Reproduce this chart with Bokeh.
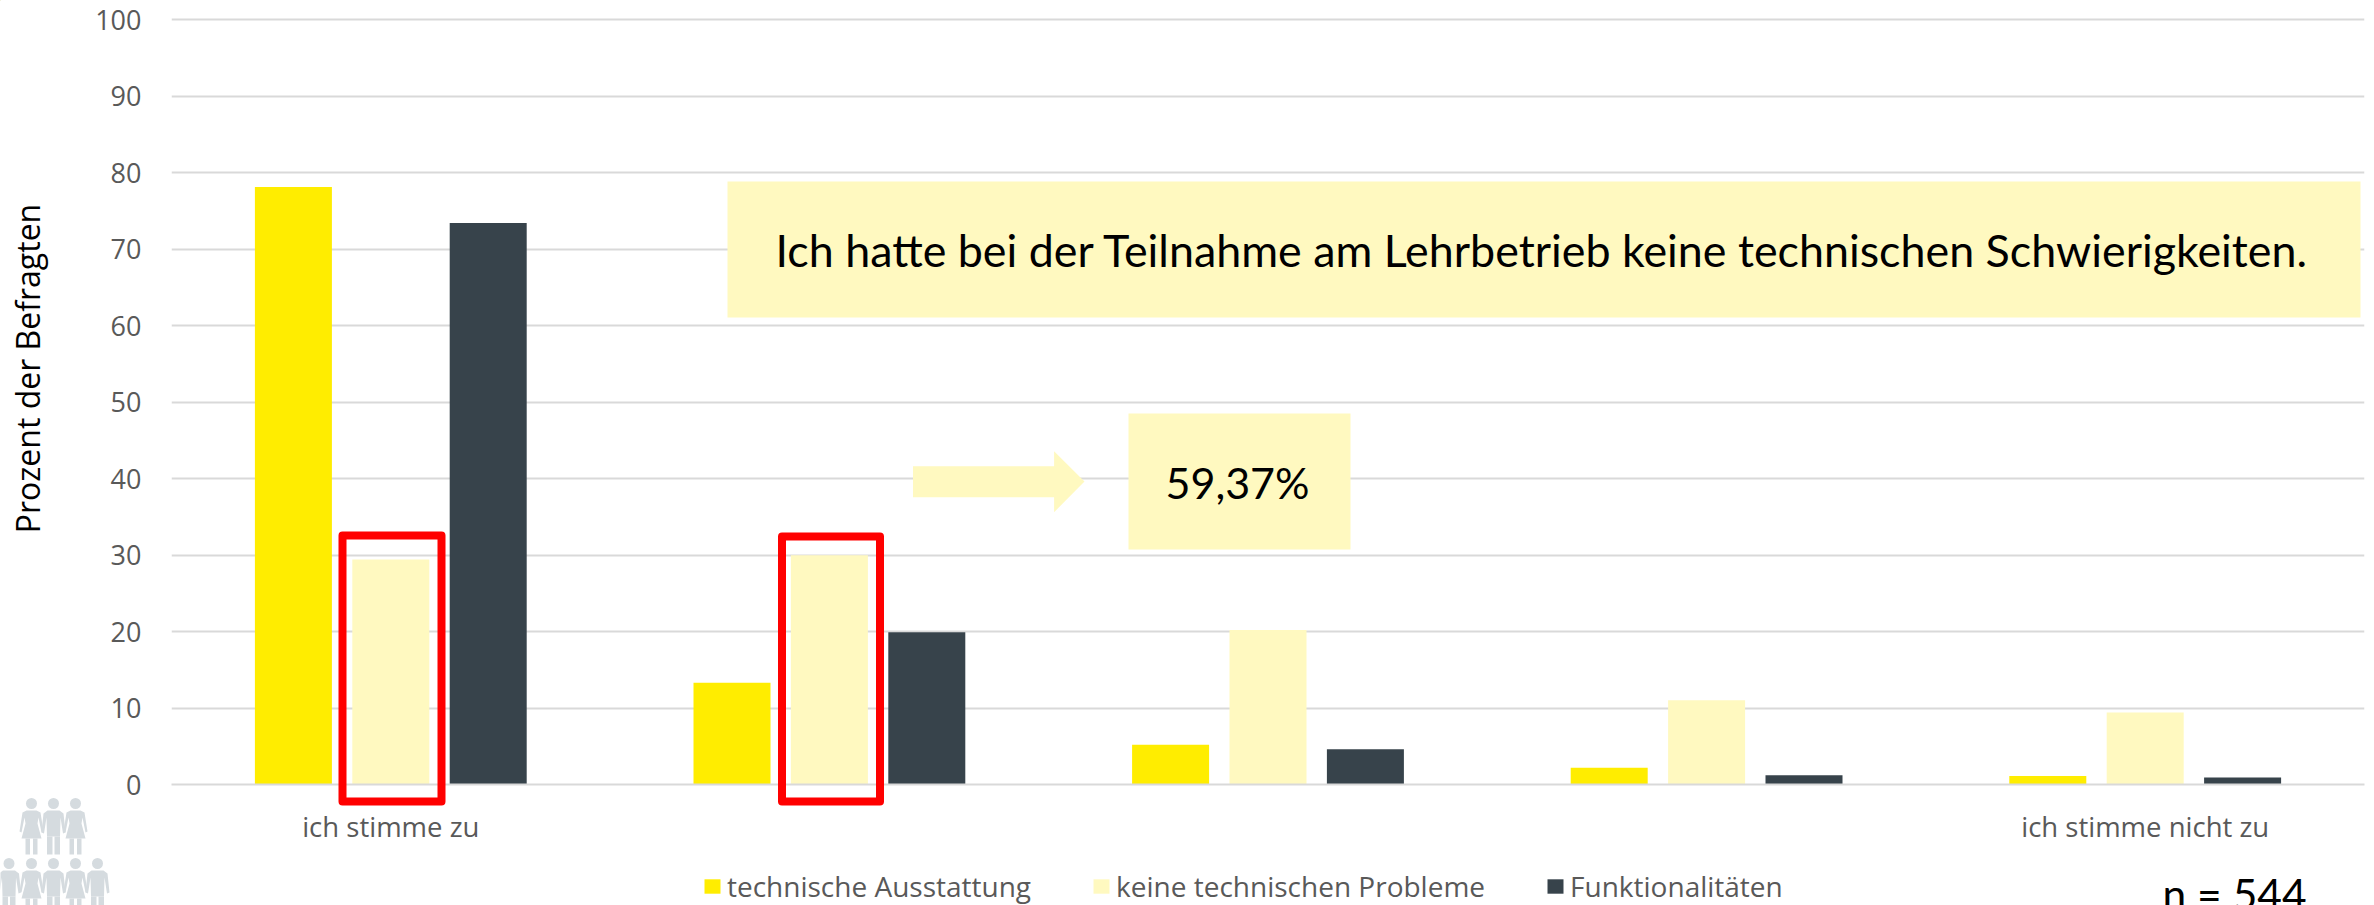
from bokeh.plotting import figure
from bokeh.layouts import column
from bokeh.models import Range1d, FixedTicker, Legend, LegendItem, Label
from bokeh.embed import file_html
from bokeh.resources import INLINE
import numpy as np

series_names = ["technische Ausstattung", "keine technischen Probleme", "Funktionalitäten"]
ausstattung = [78.1, 13.3, 5.2, 2.2, 1.1]
probleme = [29.4, 29.97, 20.2, 11.0, 9.4]
funktion = [73.4, 19.9, 4.6, 1.2, 0.9]
colors = ["#FFED00", "#FFF9C0", "#37434B"]
tick_labels = {0.5: "ich stimme zu", 4.5: "ich stimme nicht zu"}
y_ticks = list(range(0, 101, 10))
title_text = "Ich hatte bei der Teilnahme am Lehrbetrieb keine technischen Schwierigkeiten."
share_text = "59,37%"
n_text = "n = 544"
y_label = "Prozent der Befragten"

W, H = 2374, 905
LEFT, TOP, RIGHT, BOTTOM = 171, 15, 2364, 784
PXX, PXY = (RIGHT - LEFT) / 5, 7.65
FONT = "Lato"
AXF = "Open Sans"

# ---------- chart: bars, grid, axes ----------
p = figure(width=W, height=H, output_backend="svg", toolbar_location=None,
           x_range=Range1d(0, 5), y_range=Range1d(0, (BOTTOM - TOP) / PXY),
           min_border_left=LEFT, min_border_top=TOP, min_border_right=W - RIGHT, min_border_bottom=H - BOTTOM)
p.frame_align = False
p.outline_line_color = None
p.xgrid.visible = False
p.ygrid.grid_line_color = "#D9D9D9"
p.ygrid.grid_line_width = 2
p.ygrid.ticker = FixedTicker(ticks=y_ticks)

p.yaxis.ticker = FixedTicker(ticks=y_ticks)
p.yaxis.axis_line_color = None
p.yaxis.major_tick_line_color = None
p.yaxis.minor_tick_line_color = None
p.yaxis.major_label_text_font = AXF
p.yaxis.major_label_text_font_size = "27px"
p.yaxis.major_label_text_color = "#595959"
p.yaxis.major_label_standoff = 24

p.xaxis.ticker = FixedTicker(ticks=list(tick_labels.keys()))
p.xaxis.major_label_overrides = tick_labels
p.xaxis.axis_line_color = "#D9D9D9"
p.xaxis.axis_line_width = 2
p.xaxis.major_tick_line_color = None
p.xaxis.minor_tick_line_color = None
p.xaxis.major_label_text_font = AXF
p.xaxis.major_label_text_font_size = "27.5px"
p.xaxis.major_label_text_color = "#595959"
p.xaxis.major_label_standoff = 17

centers = np.arange(5) + 0.5
step, bw = 97.4 / PXX, 77 / PXX
for k, vals in enumerate([ausstattung, probleme, funktion]):
    p.vbar(x=centers + (k - 1) * step, top=vals, bottom=0, width=bw,
           fill_color=colors[k], line_color=None)

# ---------- overlay in canvas pixels: callouts, frames, pictogram, legend ----------
q = figure(width=W, height=H, output_backend="svg", toolbar_location=None,
           x_range=Range1d(0, W), y_range=Range1d(H, 0),
           x_axis_type=None, y_axis_type=None, min_border=0, margin=(-H, 0, 0, 0))
q.frame_align = False
q.outline_line_color = None
q.background_fill_color = None
q.border_fill_color = None
q.grid.visible = False

q.quad(left=[342, 781.5], right=[441, 879.5], top=[535, 536], bottom=[801, 801],
       fill_color=None, line_color="#FF0000", line_width=8, line_join="round")
q.quad(left=[727, 1128], right=[2360, 1350], top=[181, 413], bottom=[317, 549],
       fill_color=colors[1], line_color=None)
q.patch([912.5, 1053.6, 1053.6, 1084, 1053.6, 1053.6, 912.5],
        [465.7, 465.7, 450.7, 481, 511.7, 496.7, 496.7], fill_color=colors[1], line_color=None)

def add_text(x, y, text, size, font=FONT, color="#000000", **kw):
    q.add_layout(Label(x=x, y=y, text=text, text_font=font, text_font_size=size,
                       text_color=color, text_baseline="middle", **kw))
add_text(775, 249, title_text, "44.8px")
add_text(1165, 482, share_text, "43px")
add_text(2162, 893, n_text, "42.5px")
add_text(27, 368, y_label, "32px", font=AXF, angle=np.pi / 2, text_align="center")

ICON = "#D5DBDF"
WOMAN = [[(-5,7),(5,7),(9,9),(12,28),(10,29),(7,14),(6,20),(10,35),(-10,35),(-6,20),(-7,14),(-10,29),(-12,28),(-9,9)],
         [(-6,35),(-1.5,35),(-1.5,51),(-6,51)], [(1.5,35),(6,35),(6,51),(1.5,51)]]
MAN = [[(-6,7),(6,7),(10,10),(12,29),(9.5,30),(7,14),(6.5,33),(-6.5,33),(-7,14),(-9.5,30),(-12,29),(-10,10)],
       [(-6.5,33),(-1,33),(-1,51),(-6.5,51)], [(1,33),(6.5,33),(6.5,51),(1,51)]]
def person(cx, hy, shape):
    q.scatter([cx], [hy], size=11, marker="circle", fill_color=ICON, line_color=None)
    for poly in shape:
        q.patch([cx + a for a, _ in poly], [hy + b for _, b in poly], fill_color=ICON, line_color=None)
for cx, s in [(31, WOMAN), (53, MAN), (75, WOMAN)]:
    person(cx, 803, s)
for cx, s in [(8.5, MAN), (31, WOMAN), (53, MAN), (75, WOMAN), (97, MAN)]:
    person(cx, 863, s)

items = []
for k, name in enumerate(series_names):
    r = q.vbar(x=[-1000], top=[-1000], bottom=[-1001], width=1, fill_color=colors[k], line_color=None)
    items.append(LegendItem(label=name, renderers=[r]))
legend = Legend(items=items, orientation="horizontal", location=(702, 0),
                glyph_width=20, glyph_height=18, label_standoff=5, spacing=60,
                padding=0, margin=0, background_fill_alpha=0, border_line_color=None,
                label_text_font=AXF, label_text_font_size="28px", label_text_color="#595959")
q.add_layout(legend, "center")

open("out.html", "w").write(file_html(column(p, q), INLINE))
